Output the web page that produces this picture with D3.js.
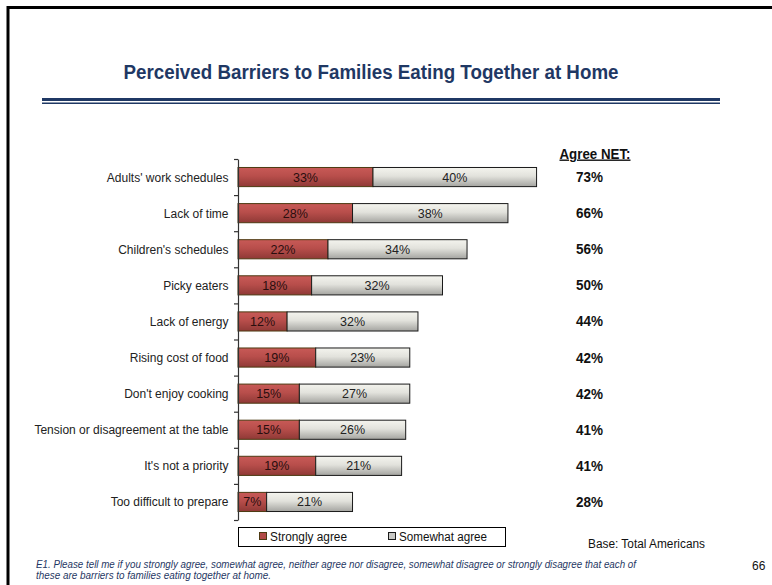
<!DOCTYPE html>
<html>
<head>
<meta charset="utf-8">
<script src="https://cdn.jsdelivr.net/npm/d3@7/dist/d3.min.js"></script>
<style>
  html, body { margin: 0; padding: 0; background: #fff; }
  svg { display: block; }
</style>
</head>
<body>
<svg id="chart" width="772" height="585"></svg>
<script>
// Survey results: barriers to families eating together at home
const categories = [
  "Adults' work schedules",
  "Lack of time",
  "Children's schedules",
  "Picky eaters",
  "Lack of energy",
  "Rising cost of food",
  "Don't enjoy cooking",
  "Tension or disagreement at the table",
  "It's not a priority",
  "Too difficult to prepare"
];
const stronglyAgree = [33, 28, 22, 18, 12, 19, 15, 15, 19, 7];
const somewhatAgree = [40, 38, 34, 32, 32, 23, 27, 26, 21, 21];
const agreeNet = [73, 66, 56, 50, 44, 42, 42, 41, 41, 28];
const seriesNames = ["Strongly agree", "Somewhat agree"];

const svg = d3.select("#chart");
const navy = "#1f3864";
const labelFont = "'Liberation Sans', Arial, sans-serif";
const narrowFont = "'Liberation Sans Narrow', 'Liberation Sans', Arial, sans-serif";

// squeeze a text element horizontally to a given width (condensed look)
function condense(sel, w) {
  sel.attr("textLength", w).attr("lengthAdjust", "spacingAndGlyphs");
}

// gradients for the two series
const defs = svg.append("defs");
function vGrad(id, stops) {
  const g = defs.append("linearGradient").attr("id", id)
    .attr("x1", 0).attr("y1", 0).attr("x2", 0).attr("y2", 1);
  stops.forEach(([o, c]) => g.append("stop").attr("offset", o).attr("stop-color", c));
}
vGrad("gRed", [[0, "#c85a57"], [0.45, "#b84e4b"], [1, "#8f3936"]]);
vGrad("gGrey", [[0, "#f4f4ee"], [0.45, "#e2e2dc"], [1, "#a4a4a0"]]);
const fills = ["url(#gRed)", "url(#gGrey)"];
const strokes = ["#4d3a12", "#1a1a1a"];
const swatch = ["#b24a47", "#c8c8c4"];

// slide frame
svg.append("path").attr("d", "M8,585 V7.5 H772")
  .attr("fill", "none").attr("stroke", "#000").attr("stroke-width", 3);

// title and double rule
svg.append("text").attr("x", 371).attr("y", 79)
  .attr("text-anchor", "middle")
  .attr("font-family", narrowFont).attr("font-weight", "bold")
  .attr("font-size", 19.5).attr("fill", navy)
  .call(condense, 495)
  .text("Perceived Barriers to Families Eating Together at Home");
svg.append("rect").attr("x", 42).attr("y", 98).attr("width", 678).attr("height", 3).attr("fill", navy);
svg.append("rect").attr("x", 42).attr("y", 102.5).attr("width", 678).attr("height", 1.5).attr("fill", navy);

// scales
const x0 = 238;
const x = d3.scaleLinear().domain([0, 100]).range([x0, x0 + 409]);
const y = d3.scaleBand().domain(categories).range([159, 520]).paddingInner(0.47).paddingOuter(0.235);
const yIdx = d3.scaleLinear().domain([0, categories.length]).range([159, 520]);

// stacked data
const rows = categories.map((c, i) => ({ cat: c, s: stronglyAgree[i], w: somewhatAgree[i], net: agreeNet[i] }));
const stack = d3.stack().keys(["s", "w"])(rows);

const bars = svg.append("g");
stack.forEach((layer, li) => {
  bars.append("g").selectAll("rect").data(layer).join("rect")
    .attr("x", d => x(d[0]))
    .attr("y", d => y(d.data.cat))
    .attr("width", d => x(d[1]) - x(d[0]))
    .attr("height", y.bandwidth())
    .attr("fill", fills[li])
    .attr("stroke", strokes[li]).attr("stroke-width", 1);
  bars.append("g").selectAll("text").data(layer).join("text")
    .attr("x", d => (x(d[0]) + x(d[1])) / 2)
    .attr("y", d => y(d.data.cat) + y.bandwidth() / 2 + 4.5)
    .attr("text-anchor", "middle")
    .attr("font-family", labelFont).attr("font-size", 12.5)
    .attr("fill", li === 0 ? "#2a0e0e" : "#222")
    .text(d => (d[1] - d[0]) + "%");
});

// vertical axis with tick marks between categories
const axis = svg.append("g").attr("transform", `translate(${x0},0)`)
  .call(d3.axisLeft(yIdx).tickValues(d3.range(categories.length + 1)).tickFormat("").tickSize(4).tickSizeOuter(0));
axis.selectAll("path, line").attr("stroke", "#333").attr("stroke-width", 1.2);

// category labels
svg.append("g").selectAll("text").data(categories).join("text")
  .attr("x", 228.5)
  .attr("y", d => y(d) + y.bandwidth() / 2 + 4.5)
  .attr("text-anchor", "end")
  .attr("font-family", labelFont).attr("font-size", 12)
  .attr("fill", "#222")
  .text(d => d);

// Agree NET column
svg.append("text").attr("x", 595).attr("y", 158.5).attr("text-anchor", "middle")
  .attr("font-family", narrowFont).attr("font-weight", "bold").attr("font-size", 14)
  .attr("text-decoration", "underline").attr("fill", "#111")
  .call(condense, 71)
  .text("Agree NET:");
svg.append("g").selectAll("text").data(rows).join("text")
  .attr("x", 589.5)
  .attr("y", d => y(d.cat) + y.bandwidth() / 2 + 5)
  .attr("text-anchor", "middle")
  .attr("font-family", narrowFont).attr("font-weight", "bold").attr("font-size", 14)
  .attr("fill", "#111")
  .call(condense, 27)
  .text(d => d.net + "%");

// legend
const lg = svg.append("g");
lg.append("rect").attr("x", 238.5).attr("y", 527.5).attr("width", 267).attr("height", 19)
  .attr("fill", "#fff").attr("stroke", "#000").attr("stroke-width", 1);
const legX = [259.5, 388.5];
const legW = [77, 88];
seriesNames.forEach((n, i) => {
  lg.append("rect").attr("x", legX[i]).attr("y", 532.5).attr("width", 7).attr("height", 7)
    .attr("fill", swatch[i]).attr("stroke", strokes[i]).attr("stroke-width", 1);
  lg.append("text").attr("x", legX[i] + 10.5).attr("y", 541)
    .attr("font-family", narrowFont).attr("font-size", 12.5).attr("fill", "#111")
    .call(condense, legW[i])
    .text(n);
});

// base and footnote
svg.append("text").attr("x", 588).attr("y", 548)
  .attr("font-family", narrowFont).attr("font-size", 12.5).attr("fill", "#111")
  .call(condense, 117)
  .text("Base: Total Americans");
svg.append("text").attr("x", 752).attr("y", 570)
  .attr("font-family", narrowFont).attr("font-size", 12).attr("fill", "#111")
  .text("66");
const foot = svg.append("g")
  .attr("font-family", narrowFont).attr("font-style", "italic").attr("font-size", 10).attr("fill", navy);
foot.append("text").attr("x", 36).attr("y", 568)
  .call(condense, 600)
  .text("E1.  Please tell me if you strongly agree, somewhat agree, neither agree nor disagree, somewhat disagree or strongly disagree that each of");
foot.append("text").attr("x", 36).attr("y", 579)
  .call(condense, 235)
  .text("these are barriers to families eating together at home.");
</script>
</body>
</html>
